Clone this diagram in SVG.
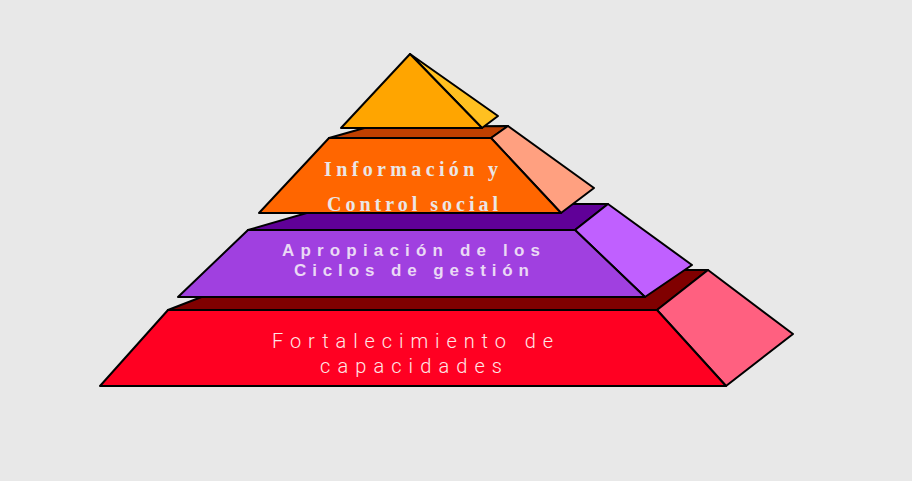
<svg xmlns="http://www.w3.org/2000/svg" width="912" height="481" viewBox="0 0 912 481">
<style>
.s{stroke:#000;stroke-width:2;stroke-linejoin:round}
.serif{font-family:"Liberation Serif","Times New Roman",serif;font-weight:bold;font-size:20px;fill:#ebe6e6}
.sansb{font-family:"Liberation Sans",Arial,sans-serif;font-weight:bold;font-size:17px;fill:#ead9f5}
.light{font-family:Roboto,"Liberation Sans",sans-serif;font-weight:300;font-size:20px;fill:#ffe6e6}
</style>
<rect width="912" height="481" fill="#e8e8e8"/>
<g id="tier-base">
<polygon class="s" points="168,310 271,270 708,270 657,310" fill="#800000"/>
<polygon class="s" points="657,310 708,270 793,334 726,386" fill="#ff6080"/>
<polygon class="s" points="168,310 657,310 726,386 100,386" fill="#ff0022"/>
<text class="light" x="272" y="348" textLength="281" lengthAdjust="spacing">Fortalecimiento de</text>
<text class="light" x="320" y="373" textLength="182" lengthAdjust="spacing">capacidades</text>
</g>
<g id="tier-ciclos">
<polygon class="s" points="248,230 338,204 608,204 575,230" fill="#600098"/>
<polygon class="s" points="575,230 608,204 692,265 645,297" fill="#c060ff"/>
<polygon class="s" points="248,230 575,230 645,297 178,297" fill="#a040e0"/>
<text class="sansb" x="282" y="256" textLength="258" lengthAdjust="spacing">Apropiación de los</text>
<text class="sansb" x="294" y="276" textLength="235" lengthAdjust="spacing">Ciclos de gestión</text>
</g>
<g id="tier-informacion">
<polygon class="s" points="329,138 368,127 508,126 491,138" fill="#c04000"/>
<polygon class="s" points="491,138 508,126 594,188 561,213" fill="#ffa080"/>
<polygon class="s" points="329,138 491,138 561,213 259,213" fill="#ff6600"/>
<text class="serif" x="324" y="176" textLength="174" lengthAdjust="spacing">Información y</text>
<text class="serif" x="327" y="211" textLength="171" lengthAdjust="spacing">Control social</text>
</g>
<g id="tier-top">
<polygon class="s" points="410,54 498,116 482,128" fill="#ffc020"/>
<polygon class="s" points="410,54 482,128 341,128" fill="#ffa500"/>
</g>
</svg>
